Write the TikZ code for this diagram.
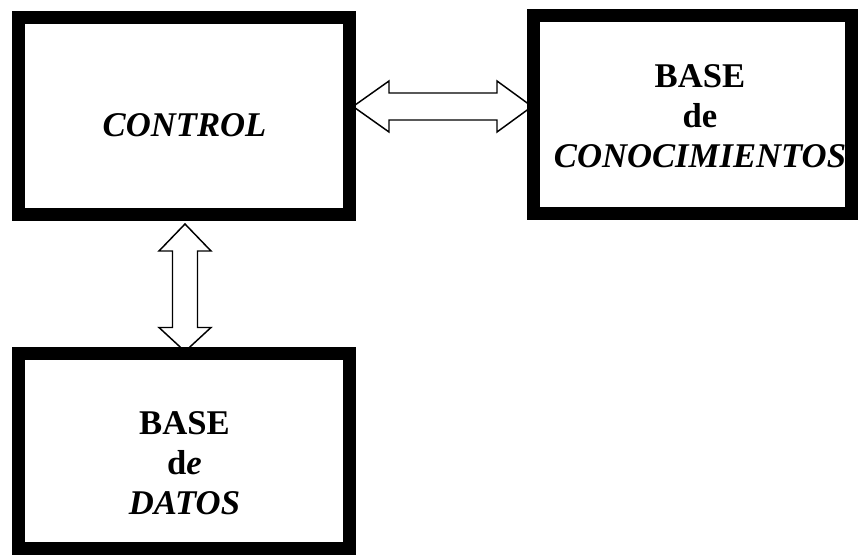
\documentclass[tikz,border=0pt]{standalone}
\usepackage{fontspec}
\setmainfont{Liberation Serif}
\usetikzlibrary{calc}
\pgfdeclarelayer{background}
\pgfsetlayers{background,main}
\begin{document}
\begin{tikzpicture}[x=0.75pt,y=-0.75pt,
  box/.style={draw=black, line width=9.75pt, rectangle, inner sep=0pt},
  lbl/.style={font=\fontsize{26}{30}\selectfont\bfseries, align=center, inner sep=0pt},
  blockarrow/.style={draw=black, fill=white, line width=1.1pt, line join=miter}]
\useasboundingbox (0,0) rectangle (858,555);
% boxes
\node[box, minimum width={331*0.75pt}, minimum height={197*0.75pt}] (ctrl) at (184,116) {};
\node[box, minimum width={318*0.75pt}, minimum height={198*0.75pt}] (kb) at (692,115) {};
\node[box, minimum width={331*0.75pt}, minimum height={195*0.75pt}] (db) at (184,451.5) {};
% labels
\node[lbl] (ctrltxt) at (184.5,125) {\itshape CONTROL};
\node[lbl] (kbtxt) at (700,116.5) {BASE\\de\\\itshape CONOCIMIENTOS};
\node[lbl] (dbtxt) at (184.5,463.5) {BASE\\d\textit{e}\\\itshape DATOS};
% arrow end points
\coordinate (hL) at ($(ctrl.east)+(-3,-9.5)$);
\coordinate (hR) at ($(kb.west)+(5.5,-8.5)$);
\coordinate (vT) at ($(ctrl.south)+(1,3)$);
\coordinate (vB) at ($(db.north)+(1,4)$);
\begin{pgfonlayer}{background}
\draw[blockarrow] (hL) -- ($(hL)+(36,-25.5)$) -- ($(hL)+(36,-13.5)$) -- ($(hR)+(-35,-13.5)$)
  -- ($(hR)+(-35,-25.5)$) -- (hR) -- ($(hR)+(-35,25.5)$) -- ($(hR)+(-35,13.5)$)
  -- ($(hL)+(36,13.5)$) -- ($(hL)+(36,25.5)$) -- cycle;
\draw[blockarrow] (vT) -- ($(vT)+(26,27)$) -- ($(vT)+(12.5,27)$) -- ($(vB)+(12.5,-24)$)
  -- ($(vB)+(26,-24)$) -- (vB) -- ($(vB)+(-26,-24)$) -- ($(vB)+(-12.5,-24)$)
  -- ($(vT)+(-12.5,27)$) -- ($(vT)+(-26,27)$) -- cycle;
\end{pgfonlayer}
\end{tikzpicture}
\end{document}
